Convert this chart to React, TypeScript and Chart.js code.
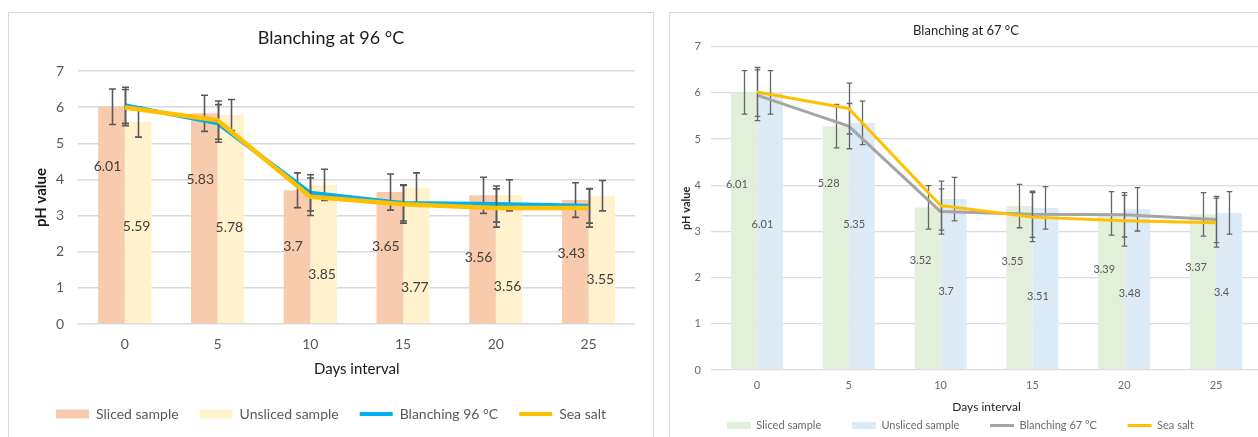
import React, { useEffect, useRef } from "react";
import { Chart, registerables } from "chart.js";

Chart.register(...registerables);

const FONT = "Lato, 'Open Sans', sans-serif";

// shared categories (days)
const days = ["0", "5", "10", "15", "20", "25"];

// ---- Blanching at 96 °C ----
const sliced96 = [6.01, 5.83, 3.7, 3.65, 3.56, 3.43];
const unsliced96 = [5.59, 5.78, 3.85, 3.77, 3.56, 3.55];
const blanching96 = [6.05, 5.55, 3.63, 3.35, 3.32, 3.27];
const seaSalt96 = [5.99, 5.64, 3.52, 3.31, 3.21, 3.21];
const slicedErr96 = [0.49, 0.5, 0.48, 0.5, 0.5, 0.48];
const unslicedErr96 = [0.42, 0.43, 0.43, 0.41, 0.43, 0.42];
const blanchingErr96 = [0.5, 0.52, 0.5, 0.5, 0.5, 0.48];
const seaSaltErr96 = [0.5, 0.53, 0.52, 0.52, 0.53, 0.53];
// pH level at which each value label sits inside its bar
const slicedLabelAt96 = [4.35, 4.0, 2.14, 2.14, 1.84, 1.95];
const unslicedLabelAt96 = [2.71, 2.66, 1.37, 1.01, 1.03, 1.23];

// ---- Blanching at 67 °C ----
const sliced67 = [6.01, 5.28, 3.52, 3.55, 3.39, 3.37];
const unsliced67 = [6.01, 5.35, 3.7, 3.51, 3.48, 3.4];
const blanching67 = [5.95, 5.28, 3.43, 3.37, 3.36, 3.26];
const seaSalt67 = [6.02, 5.66, 3.56, 3.31, 3.23, 3.19];
const slicedErr67 = [0.47, 0.47, 0.47, 0.47, 0.47, 0.47];
const unslicedErr67 = [0.47, 0.47, 0.47, 0.46, 0.47, 0.46];
const blanchingErr67 = [0.55, 0.49, 0.49, 0.5, 0.48, 0.5];
const seaSaltErr67 = [0.53, 0.55, 0.53, 0.53, 0.55, 0.53];
const slicedLabelAt67 = [4.02, 4.04, 2.38, 2.36, 2.18, 2.21];
const unslicedLabelAt67 = [3.16, 3.16, 1.7, 1.6, 1.66, 1.67];

type Style = any;

function makeOverlay(S: Style) {
  const drawErr = (chart: any, index: number) => {
    const ds = chart.data.datasets[index];
    if (!ds.errors) return;
    const meta = chart.getDatasetMeta(index);
    const y = chart.scales.y;
    const ctx = chart.ctx;
    ctx.save();
    ctx.strokeStyle = S.errColor;
    ctx.lineWidth = S.errW;
    ctx.lineCap = "butt";
    meta.data.forEach((el: any, j: number) => {
      const v = ds.data[j];
      const e = ds.errors[j];
      const x = Math.round(el.x) + 0.5;
      const t = y.getPixelForValue(v + e);
      const b = y.getPixelForValue(v - e);
      ctx.beginPath();
      ctx.moveTo(x, t);
      ctx.lineTo(x, b);
      ctx.moveTo(x - S.capHalf, t);
      ctx.lineTo(x + S.capHalf, t);
      ctx.moveTo(x - S.capHalf, b);
      ctx.lineTo(x + S.capHalf, b);
      ctx.stroke();
    });
    ctx.restore();
  };
  const drawLabels = (chart: any) => {
    const y = chart.scales.y;
    const ctx = chart.ctx;
    ctx.save();
    ctx.font = `${S.labelSize}px ${FONT}`;
    ctx.fillStyle = S.labelColor;
    ctx.textAlign = "center";
    ctx.textBaseline = "middle";
    chart.data.datasets.forEach((ds: any, i: number) => {
      if (!ds.labelAt) return;
      const meta = chart.getDatasetMeta(i);
      meta.data.forEach((el: any, j: number) => {
        ctx.fillText(String(ds.data[j]), el.x + ds.labelDx, y.getPixelForValue(ds.labelAt[j]));
      });
    });
    ctx.restore();
  };
  return {
    id: "overlay",
    beforeDatasetDraw(chart: any, args: any) {
      const ds = chart.data.datasets[args.index];
      if (ds.type === "line") drawErr(chart, args.index);
    },
    afterDatasetDraw(chart: any, args: any) {
      const ds = chart.data.datasets[args.index];
      if (ds.type !== "line") {
        drawErr(chart, args.index);
        if (ds.drawsLabels) drawLabels(chart);
      }
    },
  };
}

function buildConfig(S: Style, D: any) {
  const datasets = [
    {
      type: "bar",
      label: "Sliced sample",
      data: D.sliced,
      errors: D.slicedErr,
      labelAt: D.slicedLabelAt,
      labelDx: S.labelDx[0],
      drawsLabels: true,
      backgroundColor: S.colors[0],
      borderWidth: 0,
      categoryPercentage: S.catPct,
      barPercentage: 1,
      order: 3,
    },
    {
      type: "bar",
      label: "Unsliced sample",
      data: D.unsliced,
      errors: D.unslicedErr,
      labelAt: D.unslicedLabelAt,
      labelDx: S.labelDx[1],
      backgroundColor: S.colors[1],
      borderWidth: 0,
      categoryPercentage: S.catPct,
      barPercentage: 1,
      order: 4,
    },
    {
      type: "line",
      label: D.lineLabel,
      data: D.blanching,
      errors: D.blanchingErr,
      borderColor: S.colors[2],
      backgroundColor: S.colors[2],
      borderWidth: S.lineW[0],
      pointRadius: 0,
      tension: 0,
      borderJoinStyle: "round",
      fill: false,
      order: 2,
    },
    {
      type: "line",
      label: "Sea salt",
      data: D.seaSalt,
      errors: D.seaSaltErr,
      borderColor: S.colors[3],
      backgroundColor: S.colors[3],
      borderWidth: S.lineW[1],
      pointRadius: 0,
      tension: 0,
      borderJoinStyle: "round",
      fill: false,
      order: 1,
    },
  ];
  return {
    type: "bar",
    data: { labels: days, datasets },
    plugins: [makeOverlay(S)],
    options: {
      responsive: false,
      maintainAspectRatio: false,
      animation: false,
      layout: { padding: S.layoutPad },
      plugins: {
        tooltip: { enabled: false },
        title: {
          display: true,
          text: D.title,
          color: S.titleColor,
          font: { family: FONT, size: S.titleSize, weight: "normal" },
          padding: S.titlePad,
        },
        legend: {
          position: "bottom",
          labels: {
            usePointStyle: true,
            pointStyleWidth: S.legendBoxW,
            boxHeight: S.legendBoxH,
            padding: S.legendPad,
            color: S.legendColor,
            font: { family: FONT, size: S.legendSize },
            generateLabels: (chart: any) =>
              chart.data.datasets.map((ds: any, i: number) => ({
                text: ds.label + " ".repeat(S.legendTrail[i]),
                fillStyle: ds.type === "line" ? ds.borderColor : ds.backgroundColor,
                strokeStyle: ds.type === "line" ? ds.borderColor : ds.backgroundColor,
                lineWidth: ds.type === "line" ? S.legendLineW : 0,
                lineCap: "butt",
                pointStyle: ds.type === "line" ? "line" : "rect",
                hidden: false,
                fontColor: S.legendColor,
                datasetIndex: i,
              })),
          },
        },
      },
      scales: {
        x: {
          grid: { display: false, drawTicks: false },
          border: { display: false },
          ticks: {
            padding: S.xTickPad,
            color: S.tickColor,
            font: { family: FONT, size: S.tickSize },
          },
          title: {
            display: true,
            text: "Days interval",
            color: S.axisTitleColor,
            font: { family: FONT, size: S.xTitleSize },
            padding: S.xTitlePad,
          },
        },
        y: {
          min: 0,
          max: 7,
          grid: { color: S.gridColor, lineWidth: S.gridW, drawTicks: false },
          border: { display: false },
          ticks: {
            stepSize: 1,
            padding: S.yTickPad,
            color: S.tickColor,
            font: { family: FONT, size: S.tickSize },
          },
          title: {
            display: true,
            text: "pH value",
            color: S.axisTitleColor,
            font: { family: FONT, size: S.yTitleSize, weight: "bold" },
            padding: S.yTitlePad,
          },
        },
      },
    },
  };
}

const style96 = {
  colors: ["#F8CBAD", "#FFF2CC", "#00B0F0", "#FFC000"],
  catPct: 0.573,
  lineW: [4, 4.5],
  titleSize: 18,
  titleColor: "#1a1a1a",
  titlePad: { top: 14.2, bottom: 22.2 },
  tickSize: 14,
  tickColor: "#595959",
  xTickPad: 11.6,
  yTickPad: 14.4,
  axisTitleColor: "#1a1a1a",
  xTitleSize: 15,
  yTitleSize: 15,
  xTitlePad: { top: -4, bottom: 8 },
  yTitlePad: { top: 5, bottom: -8.5 },
  legendSize: 14,
  legendPad: 21,
  legendTrail: [0, 0, 0, 0],
  legendBoxW: 33,
  legendBoxH: 9,
  legendLineW: 4,
  legendColor: "#595959",
  layoutPad: { left: 18, right: 18, top: 0, bottom: 1 },
  errColor: "#595959",
  errW: 1.6,
  capHalf: 3.5,
  labelSize: 14,
  labelColor: "#404040",
  labelDx: [-4, -1.5],
  gridColor: "#d9d9d9",
  gridW: 1.5,
};

const style67 = {
  colors: ["#E2EFDA", "#DDEBF7", "#A5A5A5", "#FFC000"],
  catPct: 0.566,
  lineW: [3, 3],
  titleSize: 13,
  titleColor: "#262626",
  titlePad: { top: 9.9, bottom: 8.2 },
  tickSize: 11,
  tickColor: "#6b6b6b",
  xTickPad: 8.4,
  yTickPad: 10,
  axisTitleColor: "#262626",
  xTitleSize: 12,
  yTitleSize: 11,
  xTitlePad: { top: -0.5, bottom: -4.9 },
  yTitlePad: { top: 10.1, bottom: -8.7 },
  legendSize: 11,
  legendPad: 11,
  legendTrail: [7, 7, 7, 4],
  legendBoxW: 24,
  legendBoxH: 7,
  legendLineW: 3,
  legendColor: "#6b6b6b",
  layoutPad: { left: 0, right: 0, top: 0, bottom: 0 },
  errColor: "#666666",
  errW: 1.3,
  capHalf: 2.8,
  labelSize: 11,
  labelColor: "#595959",
  labelDx: [-7, -7.5],
  gridColor: "#dcdcdc",
  gridW: 1.3,
};

const data96 = {
  title: "Blanching at 96 °C",
  lineLabel: "Blanching 96 °C",
  sliced: sliced96,
  unsliced: unsliced96,
  blanching: blanching96,
  seaSalt: seaSalt96,
  slicedErr: slicedErr96,
  unslicedErr: unslicedErr96,
  blanchingErr: blanchingErr96,
  seaSaltErr: seaSaltErr96,
  slicedLabelAt: slicedLabelAt96,
  unslicedLabelAt: unslicedLabelAt96,
};

const data67 = {
  title: "Blanching at 67 °C",
  lineLabel: "Blanching 67 °C",
  sliced: sliced67,
  unsliced: unsliced67,
  blanching: blanching67,
  seaSalt: seaSalt67,
  slicedErr: slicedErr67,
  unslicedErr: unslicedErr67,
  blanchingErr: blanchingErr67,
  seaSaltErr: seaSaltErr67,
  slicedLabelAt: slicedLabelAt67,
  unslicedLabelAt: unslicedLabelAt67,
};

function ChartCanvas({ S, D, width, height }: { S: Style; D: any; width: number; height: number }) {
  const ref = useRef<HTMLCanvasElement | null>(null);
  useEffect(() => {
    if (!ref.current) return;
    const chart = new Chart(ref.current, buildConfig(S, D) as any);
    return () => chart.destroy();
  }, []);
  return <canvas ref={ref} width={width} height={height} style={{ display: "block", width, height }} />;
}

export default function App() {
  return (
    <div
      style={{
        position: "absolute",
        left: 0,
        top: 0,
        width: 1258,
        height: 437,
        overflow: "hidden",
        background: "#fff",
      }}
    >
      <div
        style={{
          position: "absolute",
          left: 8,
          top: 12,
          width: 644,
          height: 440,
          border: "1px solid #d9d9d9",
          background: "#fff",
        }}
      >
        <ChartCanvas S={style96} D={data96} width={644} height={419} />
      </div>
      <div
        style={{
          position: "absolute",
          left: 669,
          top: 12,
          width: 620,
          height: 440,
          border: "1px solid #d9d9d9",
          background: "#fff",
        }}
      >
        <ChartCanvas S={style67} D={data67} width={592} height={428} />
      </div>
    </div>
  );
}
